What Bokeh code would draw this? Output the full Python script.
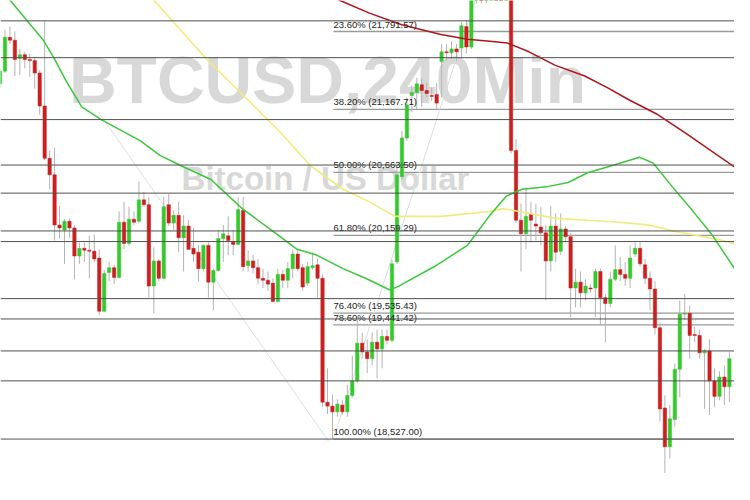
from bokeh.plotting import figure
from bokeh.models import ColumnDataSource, Range1d, Span
from bokeh.core.properties import value
from bokeh.embed import file_html
from bokeh.resources import INLINE

# ---- candle data (BTCUSD, 240 min) ----
opens = [21373,21474,21745,21722,21575,21606,21567,21559,21459,21195,
         20776,20644,20241,20202,20272,20218,19993,20055,20040,20032,
         19977,19551,19861,19900,19822,20264,20094,20288,20272,20443,
         20404,19753,19954,19815,20404,20257,20319,20140,20233,20055,
         20024,19892,20078,19784,19877,20133,20156,20109,20086,20357,
         19915,19954,19900,19815,19799,19776,19629,19846,19799,19892,
         20009,19900,19776,19900,19923,19815,18822,18791,18745,18799,
         18745,18876,18993,19295,19225,19171,19303,19249,19349,19318,
         19946,20629,20939,21280,21303,21365,21319,21280,21288,21552,
         21629,21621,21652,21660,21831,21668,22118,22180,22130,22200,
         22300,22260,22220,22250,20838,20280,20171,20326,20249,20226,
         20179,19954,20233,20032,20210,20148,19737,19784,19698,19737,
         19737,19869,19660,19613,19807,19884,19846,19815,20009,20055,
         19923,19815,19729,19419,18776,18465,18683,19086,19528,19535,
         19365,19357,19218,19233,18993,18869,19024,18946]
highs = [21497,21807,21831,21792,21652,21629,21614,21590,21482,21877,
         20838,20861,20396,20288,20295,20241,20102,20102,20156,20164,
         20047,19884,19946,19923,20350,20427,20388,20350,20590,20505,
         20466,20063,19970,20466,20489,20357,20427,20319,20280,20218,
         20078,20086,20102,19892,20202,20241,20311,20202,20466,20466,
         20040,20001,19970,19892,19869,19815,19892,19884,19946,20047,
         20040,19931,19946,20024,19970,19846,19094,18884,18845,18838,
         18962,19194,19481,19380,19326,19380,19404,19404,19404,19962,
         20722,20993,21265,21358,21420,21420,21381,21342,21381,21691,
         21691,21714,21691,21869,21885,22156,22230,22210,22250,22350,
         22340,22290,22280,22270,20931,20412,20544,20427,20412,20388,
         20241,20396,20334,20334,20233,20179,19892,19869,19807,19768,
         19892,19892,19691,19869,20078,19985,19946,20078,20102,20102,
         19970,19869,19791,19458,18876,18799,19133,19636,19691,19598,
         19427,19404,19249,19326,19094,19070,19117,19225]
lows = [21342,21458,21691,21435,21443,21497,21427,21334,21125,20761,
        20528,20117,20133,19931,20140,19807,19931,19946,19815,19946,
        19520,19543,19791,19768,19815,20047,20078,20241,20257,20388,
        19660,19535,19791,19807,20233,20202,20024,19869,20040,19946,
        19791,19869,19660,19559,19869,19946,20001,20001,20078,19869,
        19869,19853,19768,19737,19714,19621,19621,19737,19737,19815,
        19869,19714,19753,19884,19660,18783,18729,18527,18706,18721,
        18706,18861,18977,19171,19055,19117,19016,19094,19287,19303,
        19931,20606,20916,21148,21172,21187,21265,21234,21172,21265,
        21559,21575,21559,21575,21614,21652,22017,22017,22017,22150,
        22200,22170,22180,20815,20257,19869,20047,20102,20117,20078,
        19636,19869,19946,20001,20102,19504,19582,19582,19636,19698,
        19504,19442,19303,19582,19791,19791,19753,19737,19985,19908,
        19768,19559,19365,18667,18256,18372,18628,18861,19481,19171,
        19303,19171,18768,18721,18783,18838,18799,18822]
closes = [21474,21745,21722,21567,21606,21567,21559,21459,21195,20776,
          20644,20241,20218,20272,20218,19993,20055,20040,20032,19970,
          19551,19853,19900,19822,20264,20094,20288,20264,20443,20404,
          19753,19954,19815,20388,20257,20319,20140,20233,20047,20009,
          19892,20078,19784,19877,20133,20171,20117,20086,20365,19908,
          19954,19900,19815,19799,19768,19629,19846,19799,19892,20009,
          19892,19745,19908,19915,19815,18822,18791,18745,18807,18745,
          18876,18993,19295,19225,19171,19303,19249,19349,19318,19931,
          20644,20939,21203,21303,21373,21319,21296,21272,21218,21629,
          21621,21652,21629,21838,21668,22118,22180,22130,22200,22300,
          22260,22220,22250,20838,20280,20171,20311,20280,20233,20179,
          19954,20233,20024,20210,20148,19737,19784,19698,19753,19729,
          19869,19660,19613,19807,19884,19846,19815,19977,20055,19931,
          19815,19729,19419,18768,18465,18690,19086,19528,19535,19357,
          19357,19218,19233,18993,18869,19024,18946,19171]

# ---- moving averages (index, price) ----
ma_fast_x = [1.08,2.07,8.58,10.95,13.31,16.47,20.41,28.30,32.25,36.19,42.50,48.82,
             55.92,59.86,63.81,69.13,73.67,78.60,80.37,87.47,94.18,98.72,102.07,
             105.23,110.55,114.50,118.44,123.77,128.90,131.66,135.60,139.55,143.49,148.03]
ma_fast_y = [22079,22040,21730,21575,21396,21187,21086,20916,20799,20722,20606,20373,
             20164,20047,20001,19892,19815,19721,19752,19907,20078,20319,20474,
             20528,20551,20582,20660,20722,20784,20737,20543,20357,20164,19892]
ma_mid_x = [29.68,31.07,41.52,49.41,56.31,62.43,69.13,74.46,79.59,88.86,98.72,101.28,
            104.64,111.93,118.44,124.95,130.87,135.60,144.67,148.03]
ma_mid_y = [22102,22040,21575,21265,20993,20722,20528,20427,20311,20311,20350,20373,
            20350,20295,20280,20264,20241,20194,20125,20094]
ma_slow_x = [66.17,68.54,74.46,80.97,88.86,94.18,98.72,102.27,106.61,111.93,117.85,
             122.39,126.92,132.25,138.17,148.03]
ma_slow_y = [22086,22040,21939,21846,21768,21730,21714,21699,21629,21520,21435,
             21342,21241,21133,20978,20706]

# ---- horizontal levels ----
levels = [21877,21582,21086,20722,20497,20194,20109,19652,19489,19233,18993,18527]
fib_pct = ["23.60%","38.20%","50.00%","61.80%","76.40%","78.60%","100.00%"]
fib_price = [21791.57,21167.71,20663.50,20159.29,19535.43,19441.42,18527.00]
fib_start = 67.2
trend_x = [[19.82,66.17],[67.16,95.76]]
trend_y = [[21148,18512],[18527,22040]]

X0, X1 = 0.1, 148.03
Y0, Y1 = 18163, 22040

p = figure(width=734, height=484, x_range=Range1d(X0, X1), y_range=Range1d(Y0, Y1),
           toolbar_location=None, output_backend="svg", min_border=0,
           background_fill_color="white", border_fill_color="white")
p.axis.visible = False
p.grid.visible = False
p.outline_line_color = None

# watermark
p.text(x=[66.0], y=[21400], text=["BTCUSD,240Min"], text_font=value("Liberation Sans"),
       text_font_style="bold", text_font_size="66px", text_color="#d8d8d8",
       text_align="center", text_baseline="alphabetic")
p.text(x=[65.6], y=[20615], text=["Bitcoin / US Dollar"], text_font=value("Liberation Sans"),
       text_font_style="bold", text_font_size="33px", text_color="#d8d8d8",
       text_align="center", text_baseline="alphabetic")

for lv in levels:
    p.add_layout(Span(location=lv, dimension="width", line_color="#505050", line_width=1))

p.segment(x0=[fib_start]*len(fib_price), y0=fib_price, x1=[X1]*len(fib_price), y1=fib_price,
          line_color="#9a9a9a", line_width=1.3)

p.multi_line(xs=trend_x, ys=trend_y, line_color="#dddddd", line_width=1)

idx = list(range(len(opens)))
up = [c >= o for o, c in zip(opens, closes)]
src = ColumnDataSource(dict(
    x=idx, o=opens, h=highs, l=lows, c=closes,
    top=[max(o, c) for o, c in zip(opens, closes)],
    bot=[min(o, c) if abs(o - c) > 6 else min(o, c) - 6 for o, c in zip(opens, closes)],
    col=["#36c92e" if u else "#cc1f1f" for u in up]))

p.segment(x0="x", y0="h", x1="x", y1="l", source=src, line_color="#b4b4b4", line_width=1)
p.vbar(x="x", top="top", bottom="bot", width=0.68, source=src,
       fill_color="col", line_color="col", line_width=0.5)

p.line(ma_slow_x, ma_slow_y, line_color="#b3141b", line_width=1.5)
p.line(ma_mid_x, ma_mid_y, line_color="#f0ec78", line_width=1.6)
p.line(ma_fast_x, ma_fast_y, line_color="#3cc83c", line_width=1.5)

labels = [f"{a} ({b:,.2f})" for a, b in zip(fib_pct, fib_price)]
p.text(x=[fib_start]*len(labels), y=fib_price, text=labels, y_offset=-2,
       text_font=value("Liberation Sans"), text_font_size="9.5px",
       text_color="#222222", text_align="left", text_baseline="bottom")

open("out.html", "w").write(file_html(p, INLINE))
